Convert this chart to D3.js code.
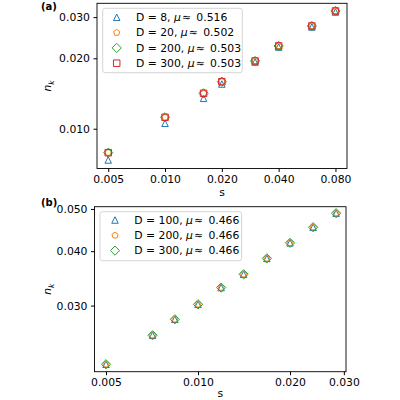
<!DOCTYPE html>
<html>
<head>
<meta charset="utf-8">
<script src="https://cdn.jsdelivr.net/npm/d3@7"></script>
<style>
  body { margin: 0; background: #fff; }
  svg { font-family: "DejaVu Sans", sans-serif; }
</style>
</head>
<body>
<div id="viz"></div>
<script>
// panel (a)
const sA = [0.005, 0.010, 0.016, 0.020, 0.030, 0.040, 0.060, 0.080];
const nD8 = [0.00735, 0.01055, 0.01349, 0.01553, 0.01928, 0.02235, 0.02723, 0.03155];
const nD20 = [0.00790, 0.01119, 0.01417, 0.01589, 0.01948, 0.02258, 0.02749, 0.03187];
const nD200a = [0.00790, 0.01119, 0.01417, 0.01589, 0.01948, 0.02258, 0.02749, 0.03187];
const nD300a = [0.00790, 0.01119, 0.01417, 0.01589, 0.01948, 0.02258, 0.02749, 0.03187];
const labelsA = ['D = 8, ', 'D = 20, ', 'D = 200, ', 'D = 300, '];
const muA = ['0.516', '0.502', '0.503', '0.503'];
const xTicksA = [0.005, 0.010, 0.020, 0.040, 0.080];
const yTicksA = [0.010, 0.020, 0.030];

// panel (b)
const sB = [0.005, 0.0071, 0.0084, 0.010, 0.0119, 0.0141, 0.0168, 0.020, 0.0238, 0.0283];
const nD100 = [0.0220, 0.02565, 0.0279, 0.0302, 0.0330, 0.0354, 0.0385, 0.0418, 0.0454, 0.0489];
const nD200b = [0.0220, 0.02565, 0.0279, 0.0302, 0.0330, 0.0354, 0.0385, 0.0418, 0.0454, 0.0489];
const nD300b = [0.0220, 0.02565, 0.0279, 0.0302, 0.0330, 0.0354, 0.0385, 0.0418, 0.0454, 0.0489];
const labelsB = ['D = 100, ', 'D = 200, ', 'D = 300, '];
const muB = ['0.466', '0.466', '0.466'];
const xTicksB = [0.005, 0.010, 0.020, 0.030];
const yTicksB = [0.030, 0.040, 0.050];

const blue = '#1f77b4', orange = '#ff7f0e', green = '#2ca02c', red = '#d62728';
const ms = 6.5;
const fs = '10.8px';

// marker paths, centered at 0,0
function markerPath(type) {
  const h = ms / 2;
  if (type === 'tri') return `M0,${-h}L${-h},${h}L${h},${h}Z`;
  if (type === 'sq') return `M${-h},${-h}H${h}V${h}H${-h}Z`;
  if (type === 'dia') { const d = h * Math.SQRT2; return `M0,${-d}L${d},0L0,${d}L${-d},0Z`; }
  if (type === 'pent') {
    let p = [];
    for (let i = 0; i < 5; i++) {
      let a = -Math.PI / 2 + i * 2 * Math.PI / 5;
      p.push([h * Math.cos(a), h * Math.sin(a)]);
    }
    return 'M' + p.map(d => d.join(',')).join('L') + 'Z';
  }
}

const svg = d3.select('#viz').append('svg')
  .attr('width', 400)
  .attr('height', 400)
  .style('font-size', fs);

function panel(cfg) {
  const x = d3.scaleLog().domain(cfg.xDomain).range(cfg.xRange);
  const y = d3.scaleLog().domain(cfg.yDomain).range(cfg.yRange);
  const g = svg.append('g');
  const fmt = d3.format('.3f');

  g.append('g')
    .attr('transform', `translate(0,${cfg.yRange[0]})`)
    .call(d3.axisBottom(x).tickValues(cfg.xTicks).tickFormat(fmt).tickSize(3.5).tickPadding(3.5))
    .call(a => a.select('.domain').remove())
    .call(a => a.selectAll('text').attr('fill', '#000').style('font-size', fs).style('font-family', 'DejaVu Sans'));

  g.append('g')
    .attr('transform', `translate(${cfg.xRange[0]},0)`)
    .call(d3.axisLeft(y).tickValues(cfg.yTicks).tickFormat(fmt).tickSize(3.5).tickPadding(3.5))
    .call(a => a.select('.domain').remove())
    .call(a => a.selectAll('text').attr('fill', '#000').style('font-size', fs).style('font-family', 'DejaVu Sans'));

  // series
  cfg.series.forEach(s => {
    g.append('g').selectAll('path')
      .data(cfg.xs.map((v, i) => [v, s.values[i]]))
      .join('path')
      .attr('d', markerPath(s.marker))
      .attr('transform', d => `translate(${x(d[0])},${y(d[1])})`)
      .attr('fill', 'none')
      .attr('stroke', s.color)
      .attr('stroke-width', 1);
  });

  // frame
  g.append('rect')
    .attr('x', cfg.xRange[0])
    .attr('y', cfg.yRange[1])
    .attr('width', cfg.xRange[1] - cfg.xRange[0])
    .attr('height', cfg.yRange[0] - cfg.yRange[1])
    .attr('fill', 'none')
    .attr('stroke', '#000')
    .attr('stroke-width', 0.9);

  // legend
  const lg = g.append('g');
  lg.append('rect')
    .attr('x', cfg.legend.x).attr('y', cfg.legend.y)
    .attr('width', cfg.legend.w).attr('height', cfg.legend.h)
    .attr('rx', 2.5)
    .attr('fill', 'white').attr('fill-opacity', 0.8)
    .attr('stroke', '#d0d0d0').attr('stroke-width', 0.9);
  cfg.series.forEach((s, i) => {
    const cy = cfg.legend.y0 + i * cfg.legend.dy;
    lg.append('path')
      .attr('d', markerPath(s.marker))
      .attr('transform', `translate(${cfg.legend.mx},${cy})`)
      .attr('fill', 'none').attr('stroke', s.color).attr('stroke-width', 1);
    const t = lg.append('text')
      .attr('x', cfg.legend.tx).attr('y', cy).attr('dy', '0.36em');
    t.append('tspan').text(s.label);
    t.append('tspan').style('font-style', 'italic').text('μ');
    t.append('tspan').text('\u200a≈\u2002' + s.mu);
  });

  // labels
  g.append('text')
    .attr('x', (cfg.xRange[0] + cfg.xRange[1]) / 2)
    .attr('y', cfg.yRange[0] + cfg.xlabDy)
    .attr('text-anchor', 'middle')
    .text('s');

  const yl = g.append('text')
    .attr('transform', `translate(${cfg.ylabX},${(cfg.yRange[0] + cfg.yRange[1]) / 2}) rotate(-90)`)
    .attr('text-anchor', 'middle')
    .style('font-style', 'italic');
  yl.append('tspan').text('n');
  yl.append('tspan').attr('dy', 2.5).style('font-size', '7.5px').text('k');

  g.append('text')
    .attr('x', 41).attr('y', cfg.tagY)
    .style('font-weight', 'bold')
    .style('font-size', '10px')
    .text(cfg.tag);
}

panel({
  xDomain: [0.00436, 0.0921], xRange: [97, 347],
  yDomain: [0.00676, 0.03437], yRange: [168.5, 3.3],
  xTicks: xTicksA, yTicks: yTicksA, xs: sA,
  series: [
    { values: nD8, marker: 'tri', color: blue, label: labelsA[0], mu: muA[0] },
    { values: nD20, marker: 'pent', color: orange, label: labelsA[1], mu: muA[1] },
    { values: nD200a, marker: 'dia', color: green, label: labelsA[2], mu: muA[2] },
    { values: nD300a, marker: 'sq', color: red, label: labelsA[3], mu: muA[3] }
  ],
  legend: { x: 102.7, y: 8.3, w: 139.6, h: 64.4, y0: 17.3, dy: 15.3, mx: 116.7, tx: 136 },
  ylabX: 51, tag: '(a)', tagY: 9.5, xlabDy: 27
});

panel({
  xDomain: [0.004585, 0.03049], xRange: [94.5, 346],
  yDomain: [0.02115, 0.0506], yRange: [371.7, 206.7],
  xTicks: xTicksB, yTicks: yTicksB, xs: sB,
  series: [
    { values: nD100, marker: 'tri', color: blue, label: labelsB[0], mu: muB[0] },
    { values: nD200b, marker: 'pent', color: orange, label: labelsB[1], mu: muB[1] },
    { values: nD300b, marker: 'dia', color: green, label: labelsB[2], mu: muB[2] }
  ],
  legend: { x: 100, y: 211.7, w: 141.7, h: 49, y0: 220, dy: 15.3, mx: 115, tx: 134.3 },
  ylabX: 51, tag: '(b)', tagY: 206, xlabDy: 25.5
});
</script>
</body>
</html>
